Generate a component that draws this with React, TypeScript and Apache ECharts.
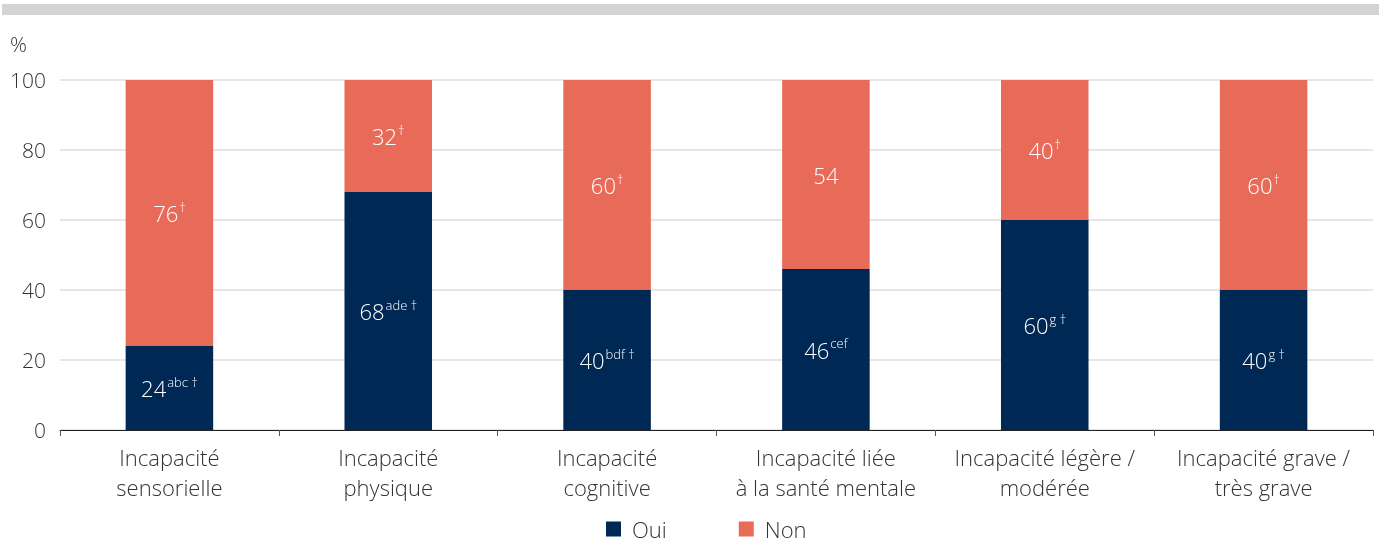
import React, { useEffect, useRef } from "react";
import * as echarts from "echarts";

const categories = [
  "Incapacité\nsensorielle",
  "Incapacité\nphysique",
  "Incapacité\ncognitive",
  "Incapacité liée\nà la santé mentale",
  "Incapacité légère /\nmodérée",
  "Incapacité grave /\ntrès grave",
];
const ouiValues = [24, 68, 40, 46, 60, 40];
const nonValues = [76, 32, 60, 54, 40, 60];
const ouiSup = ["abc †", "ade †", "bdf †", "cef", "g †", "g †"];
const nonSup = ["†", "†", "†", "", "†", "†"];
const yTicks = [0, 20, 40, 60, 80, 100];

const FONT = "'Open Sans', sans-serif";
const W = 300;
const NAVY = "#002855";
const ORANGE = "#E86A58";

const richLabel = {
  v: { fontSize: 22, color: "#fff", fontFamily: FONT, fontWeight: W, lineHeight: 26 },
  s: { fontSize: 13, color: "#fff", fontFamily: FONT, fontWeight: W, verticalAlign: "top", lineHeight: 26, padding: [0, 0, 7, 1] },
};

export default function App() {
  const ref = useRef<HTMLDivElement>(null);
  useEffect(() => {
    if (!ref.current) return;
    const chart = echarts.init(ref.current, undefined, { renderer: "svg" });
    chart.setOption({
      animation: false,
      textStyle: { fontFamily: FONT },
      graphic: [
        { type: "rect", left: 2, top: 4, shape: { width: 1377, height: 11 }, style: { fill: "#d4d4d4" } },
        { type: "text", left: 10, top: 33, style: { text: "%", fontSize: 21, fontWeight: W, fill: "#333", fontFamily: FONT } },
      ],
      legend: {
        left: 606,
        bottom: 3,
        padding: 0,
        itemWidth: 15,
        itemHeight: 15,
        itemGap: 72,
        icon: "rect",
        textStyle: { fontSize: 22, lineHeight: 22, fontWeight: W, color: "#333", fontFamily: FONT, padding: [0, 0, 0, 6] },
        data: ["Oui", "Non"],
      },
      grid: { left: 60, right: 6, top: 80, bottom: 113, containLabel: false },
      xAxis: {
        type: "category",
        data: categories,
        axisLine: { show: true, lineStyle: { color: "#222", width: 1 } },
        axisTick: { show: true, length: 6, interval: 0, lineStyle: { color: "#555" } },
        axisLabel: { interval: 0, fontSize: 22, fontWeight: W, color: "#333", fontFamily: FONT, lineHeight: 30, margin: 12 },
      },
      yAxis: {
        type: "value",
        min: 0,
        max: 100,
        interval: 20,
        axisLine: { show: false },
        axisTick: { show: false },
        splitLine: { lineStyle: { color: "#dedede", width: 1.5 } },
        axisLabel: {
          fontSize: 21,
          fontWeight: W,
          color: "#333",
          fontFamily: FONT,
          margin: 14,
          formatter: (v: number) => (yTicks.includes(v) ? String(v) : ""),
        },
      },
      series: [
        {
          name: "Oui",
          type: "bar",
          stack: "t",
          barWidth: "40%",
          itemStyle: { color: NAVY },
          data: ouiValues,
          label: {
            show: true,
            position: "inside",
            formatter: (p: any) => `{v|${ouiValues[p.dataIndex]}}` + (ouiSup[p.dataIndex] ? `{s|${ouiSup[p.dataIndex]}}` : ""),
            rich: richLabel,
          },
        },
        {
          name: "Non",
          type: "bar",
          stack: "t",
          barWidth: "40%",
          itemStyle: { color: ORANGE },
          data: nonValues,
          label: {
            show: true,
            position: "inside",
            formatter: (p: any) => `{v|${nonValues[p.dataIndex]}}` + (nonSup[p.dataIndex] ? `{s|${nonSup[p.dataIndex]}}` : ""),
            rich: richLabel,
          },
        },
      ],
    });
    return () => chart.dispose();
  }, []);
  return <div ref={ref} style={{ position: "fixed", left: 0, top: 0, width: 1379, height: 543 }} />;
}
